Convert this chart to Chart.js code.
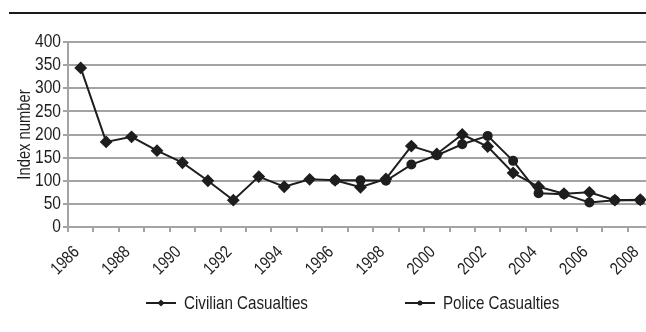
<!DOCTYPE html>
<html>
<head>
<meta charset="utf-8">
<script src="https://cdn.jsdelivr.net/npm/chart.js@4.4.1/dist/chart.umd.min.js"></script>
<style>
  html, body { margin: 0; padding: 0; background: #fff; overflow: hidden; }
  #wrap { position: relative; width: 646px; height: 332px; overflow: hidden; }
  #rule { position: absolute; left: 9px; top: 12px; width: 637px; height: 2px; background: #1a1a1a; }
  #chart { position: absolute; left: 0; top: 0; }
</style>
</head>
<body>
<div id="wrap">
  <div id="rule"></div>
  <canvas id="chart" width="660" height="332"></canvas>
</div>
<script>
// data
const years = ['1986', '1987', '1988', '1989', '1990', '1991', '1992', '1993', '1994', '1995', '1996', '1997',
  '1998', '1999', '2000', '2001', '2002', '2003', '2004', '2005', '2006', '2007', '2008'];
const shownYears = ['1986', '1988', '1990', '1992', '1994', '1996', '1998', '2000', '2002', '2004', '2006', '2008'];
const civilian = [344, 184, 195, 165, 139, 100, 58, 109, 87, 103, 101, 86,
  104, 175, 158, 200, 174, 117, 87, 72, 75, 58, 59];
const police = [null, null, null, null, null, null, null, null, null, null, 101, 101,
  100, 135, 155, 179, 197, 143, 73, 71, 53, 58, 58];
const yTicks = [0, 50, 100, 150, 200, 250, 300, 350, 400];

const ink = '#1e1e1e';
const gridGrey = '#a3a3a3';
const fam = '"Liberation Sans", Arial, sans-serif';

const canvas = document.getElementById('chart');
const c2d = canvas.getContext('2d');
// no narrow face installed, so squeeze every text run along its own baseline
const plainFill = c2d.fillText.bind(c2d);
c2d.fillText = function (t, x, y) {
  this.save();
  this.translate(x, y);
  this.scale(0.82, 1);
  plainFill(t, 0, 0);
  this.restore();
};

// legend: short line with the marker in the middle, then the label
const lineLegend = {
  id: 'lineLegend',
  afterDraw(chart) {
    const ctx = chart.ctx;
    const spots = [146, 405];
    ctx.save();
    chart.data.datasets.forEach((ds, i) => {
      const x = spots[i], y = 303;
      ctx.strokeStyle = ink;
      ctx.lineWidth = 2;
      ctx.beginPath();
      ctx.moveTo(x, y);
      ctx.lineTo(x + 30, y);
      ctx.stroke();
      ctx.fillStyle = ink;
      ctx.beginPath();
      if (ds.pointStyle === 'rectRot') {
        ctx.moveTo(x + 15, y - 3.5);
        ctx.lineTo(x + 18.5, y);
        ctx.lineTo(x + 15, y + 3.5);
        ctx.lineTo(x + 11.5, y);
        ctx.closePath();
      } else {
        ctx.arc(x + 15, y, 2.5, 0, Math.PI * 2);
      }
      ctx.fill();
      ctx.font = '18.5px ' + fam;
      ctx.textAlign = 'left';
      ctx.textBaseline = 'middle';
      ctx.fillText(ds.label, x + 38, y + 1);
    });
    ctx.restore();
  }
};

new Chart(canvas, {
  type: 'line',
  data: {
    labels: years,
    datasets: [{
      label: 'Civilian Casualties',
      data: civilian,
      borderColor: ink,
      backgroundColor: ink,
      borderWidth: 2,
      pointStyle: 'rectRot',
      pointRadius: 5,
      pointBackgroundColor: ink,
      pointBorderColor: ink,
      tension: 0
    }, {
      label: 'Police Casualties',
      data: police,
      borderColor: ink,
      backgroundColor: ink,
      borderWidth: 2,
      pointStyle: 'circle',
      pointRadius: 4,
      pointBackgroundColor: ink,
      pointBorderColor: ink,
      tension: 0
    }]
  },
  options: {
    responsive: false,
    animation: false,
    layout: { padding: { top: 42, right: 6, left: 0, bottom: 0 } },
    plugins: {
      legend: { display: false },
      tooltip: { enabled: false }
    },
    scales: {
      x: {
        offset: true,
        grid: { offset: true, drawOnChartArea: false, color: gridGrey, lineWidth: 2, tickLength: 5 },
        border: { color: gridGrey, width: 2 },
        ticks: {
          autoSkip: false,
          minRotation: 45,
          maxRotation: 45,
          labelOffset: -4,
          padding: 10,
          color: ink,
          font: { family: fam, size: 17.5 },
          callback(v) {
            const l = this.getLabelForValue(v);
            return shownYears.includes(l) ? l : '';
          }
        },
        afterFit(s) {
          s.height = 105;
          s.paddingLeft = 0;
          s.paddingRight = 0;
        }
      },
      y: {
        min: yTicks[0],
        max: yTicks[yTicks.length - 1],
        afterBuildTicks(s) { s.ticks = yTicks.map(v => ({ value: v })); },
        grid: { color: gridGrey, lineWidth: 2, tickLength: 5 },
        border: { color: gridGrey, width: 2 },
        ticks: {
          autoSkip: false,
          padding: 2,
          color: ink,
          font: { family: fam, size: 19 }
        },
        title: {
          display: true,
          text: 'Index number',
          color: ink,
          font: { family: fam, size: 18 },
          padding: { top: 14, bottom: 0 }
        },
        afterFit(s) { s.width = 68; }
      }
    }
  },
  plugins: [lineLegend]
});
</script>
</body>
</html>
